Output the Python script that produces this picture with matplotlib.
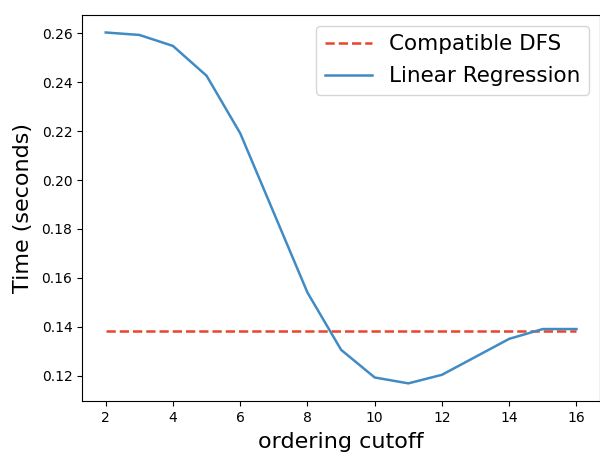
import matplotlib
matplotlib.use('Agg')
import matplotlib.pyplot as plt

# ordering cutoff values and timings
cutoff = [2, 3, 4, 5, 6, 8, 9, 10, 11, 12, 14, 15, 16]
regression_time = [0.2603, 0.2593, 0.2548, 0.2426, 0.2191, 0.1540, 0.1306,
                   0.1193, 0.1169, 0.1204, 0.1351, 0.1391, 0.1391]
dfs_cutoff = [2, 16]
dfs_time = [0.1384, 0.1384]

fig = plt.figure(figsize=(6.0, 4.53), dpi=100)
ax = fig.add_axes([0.137, 0.115, 0.863, 0.852])

ax.plot(dfs_cutoff, dfs_time, '--', color='#E8452C', linewidth=1.8,
        label='Compatible DFS')
ax.plot(cutoff, regression_time, '-', color='#418BC4', linewidth=1.8,
        label='Linear Regression')

ax.set_xticks([2, 4, 6, 8, 10, 12, 14, 16])
ax.tick_params(labelsize=10)
ax.set_xlabel('ordering cutoff', fontsize=16, labelpad=5)
ax.set_ylabel('Time (seconds)', fontsize=16, labelpad=6)
ax.legend(loc='upper right', fontsize=15.5, handlelength=2.2,
          handletextpad=0.8, labelspacing=0.55)

fig.savefig('out.png', dpi=100)
